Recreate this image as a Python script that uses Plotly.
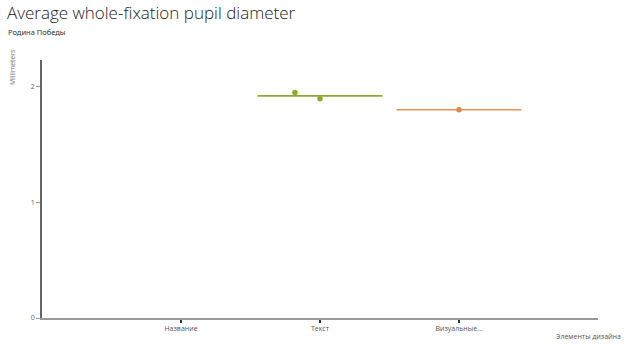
import plotly.graph_objects as go

categories = ["Название", "Текст", "Визуальные..."]
cat_pos = [1, 2, 3]

# mean lines per category (category index, mean value)
mean_cat = [2, 3]
mean_val = [1.92, 1.80]
mean_colors = ["#8cab2b", "#ea9050"]
half_width = 0.45

# individual points (x position on category axis, value)
pt_x = [1.82, 2.0, 3.0]
pt_y = [1.95, 1.895, 1.80]
pt_colors = ["#8cab2b", "#8cab2b", "#e3874a"]

fig = go.Figure()
for c, v, col in zip(mean_cat, mean_val, mean_colors):
    fig.add_trace(go.Scatter(x=[c - half_width, c + half_width], y=[v, v], mode="lines",
                             line=dict(color=col, width=1.6), showlegend=False, hoverinfo="skip"))
fig.add_trace(go.Scatter(x=pt_x, y=pt_y, mode="markers",
                         marker=dict(color=pt_colors, size=5.5), showlegend=False))

fig.update_layout(
    width=630, height=351,
    margin=dict(l=42, r=32, t=60, b=33),
    plot_bgcolor="white", paper_bgcolor="white",
    font=dict(family="Open Sans, Noto Sans, sans-serif", color="#555"),
    title=dict(text="Average whole-fixation pupil diameter", x=0.011, xanchor="left",
               y=0.962, yanchor="middle",
               font=dict(size=17, color="#222", family="Open Sans, sans-serif", weight=300)),
    annotations=[
        dict(text="Родина Победы", xref="paper", yref="paper", x=-0.065, xanchor="left",
             y=1.108, yanchor="middle", showarrow=False,
             font=dict(size=7.5, color="#333", family="Noto Sans, sans-serif")),
        dict(text="Millimeters", xref="paper", yref="paper", x=-0.052, xanchor="center",
             y=1.045, yanchor="top", textangle=-90, showarrow=False,
             font=dict(size=6.8, color="#777")),
        dict(text="Элементы дизайна", xref="paper", yref="paper", x=1.045, xanchor="right",
             y=-0.045, yanchor="top", showarrow=False,
             font=dict(size=7, color="#555")),
    ],
    xaxis=dict(range=[0, 4], tickvals=cat_pos, ticktext=categories, showgrid=False,
               zeroline=False, showline=True, linecolor="#999", linewidth=2,
               ticks="outside", ticklen=3, tickcolor="#333", tickwidth=1.5,
               tickfont=dict(size=7, color="#555")),
    yaxis=dict(range=[0, 2.23], tickvals=[0, 1, 2], showgrid=False, zeroline=False,
               showline=True, linecolor="#666", linewidth=1.5,
               ticks="outside", ticklen=4, tickcolor="#999", tickwidth=1,
               tickfont=dict(size=7, color="#666")),
)
fig.write_html("out.html")
